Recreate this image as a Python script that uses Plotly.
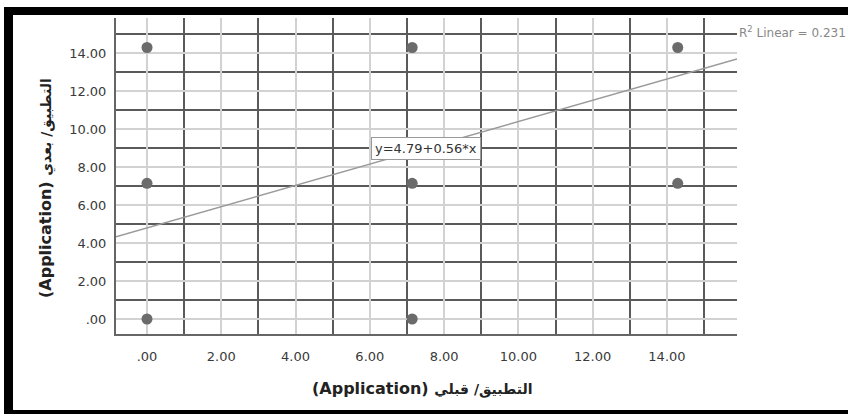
import plotly.graph_objects as go

# ---- data ----
x_before = [0.0, 7.14, 14.29, 0.0, 7.14, 14.29, 0.0, 7.14]
y_after = [14.29, 14.29, 14.29, 7.14, 7.14, 7.14, 0.0, 0.0]
fit_intercept = 4.79
fit_slope = 0.56
r2_linear = 0.231
tick_values = [0, 2, 4, 6, 8, 10, 12, 14]
tick_labels = [".00", "2.00", "4.00", "6.00", "8.00", "10.00", "12.00", "14.00"]
title_latin = "(Application)"
x_title_ar = "التطبيق/ قبلي"
y_title_ar = "التطبيق/ بعدي"

# ---- layout geometry (pixels) ----
W, H = 848, 414
L, R, T, B = 116, 737, 18, 334
x_range = [-0.835, 15.886]
y_range = [-0.789, 15.842]


def xp(px):
    return (px - L) / (R - L)


def yp(py):
    return (B - py) / (B - T)


fig = go.Figure()

fit_x = list(x_range)
fit_y = [fit_intercept + fit_slope * v for v in fit_x]
fig.add_trace(go.Scatter(x=fit_x, y=fit_y, mode="lines",
                         line=dict(color="#9a9a9a", width=1.5),
                         hoverinfo="skip"))

fig.add_trace(go.Scatter(x=x_before, y=y_after, mode="markers",
                         marker=dict(color="#6b6b6b", size=11, line=dict(width=0))))

axis_common = dict(
    tickvals=tick_values, ticktext=tick_labels,
    showgrid=True, gridcolor="#d2d2d2", gridwidth=2,
    zeroline=False, showline=True, linecolor="#666666", linewidth=2,
    ticks="", tickfont=dict(family="DejaVu Sans", size=13, color="#3a3a3a"),
    minor=dict(tick0=1, dtick=2, showgrid=True, gridcolor="#5a5a5a", gridwidth=2, ticks=""),
)

fig.update_xaxes(range=x_range, ticklabelstandoff=9, **axis_common)
fig.update_yaxes(range=y_range, ticklabelstandoff=5, **axis_common)

eq_x = 7.5
fig.add_annotation(x=eq_x, y=fit_intercept + fit_slope * eq_x, xref="x", yref="y",
                   text=f"y={fit_intercept}+{fit_slope}*x", showarrow=False,
                   font=dict(family="DejaVu Sans", size=13, color="#333333"),
                   bgcolor="white", bordercolor="#9a9a9a", borderwidth=1, borderpad=3)

fig.add_annotation(x=1, y=15, xref="paper", yref="y", xanchor="left", yanchor="middle",
                   xshift=0, yshift=2,
                   text=f"R<sup>2</sup> Linear = {r2_linear}", showarrow=False,
                   font=dict(family="DejaVu Sans", size=12, color="#888888"))


def axis_title(ar):
    return (f"<b>{title_latin} <span style='font-size:14px'>{ar}</span></b>")


fig.add_annotation(x=xp(421.5), y=yp(388), xref="paper", yref="paper",
                   xanchor="center", yanchor="middle",
                   text=axis_title(x_title_ar), showarrow=False,
                   font=dict(family="DejaVu Sans", size=16, color="#222222"))
fig.add_annotation(x=xp(46), y=yp(188), xref="paper", yref="paper", textangle=-90,
                   xanchor="center", yanchor="middle",
                   text=axis_title(y_title_ar), showarrow=False,
                   font=dict(family="DejaVu Sans", size=16, color="#222222"))

# black frame around the picture
frame = [(4, 7, 13, 414), (4, 7, 860, 15), (4, 410, 860, 430)]
for x0, y0, x1, y1 in frame:
    fig.add_shape(type="rect", xref="paper", yref="paper",
                  x0=xp(x0), x1=xp(x1), y0=yp(y0), y1=yp(y1),
                  fillcolor="black", line=dict(width=0), layer="above")

fig.update_layout(width=W, height=H,
                  margin=dict(l=L, r=W - R, t=T, b=H - B, pad=0),
                  paper_bgcolor="white", plot_bgcolor="white",
                  showlegend=False, font=dict(family="DejaVu Sans"))

fig.write_html("out.html", config={"displayModeBar": False},
               post_script="document.body.style.margin='0';")
